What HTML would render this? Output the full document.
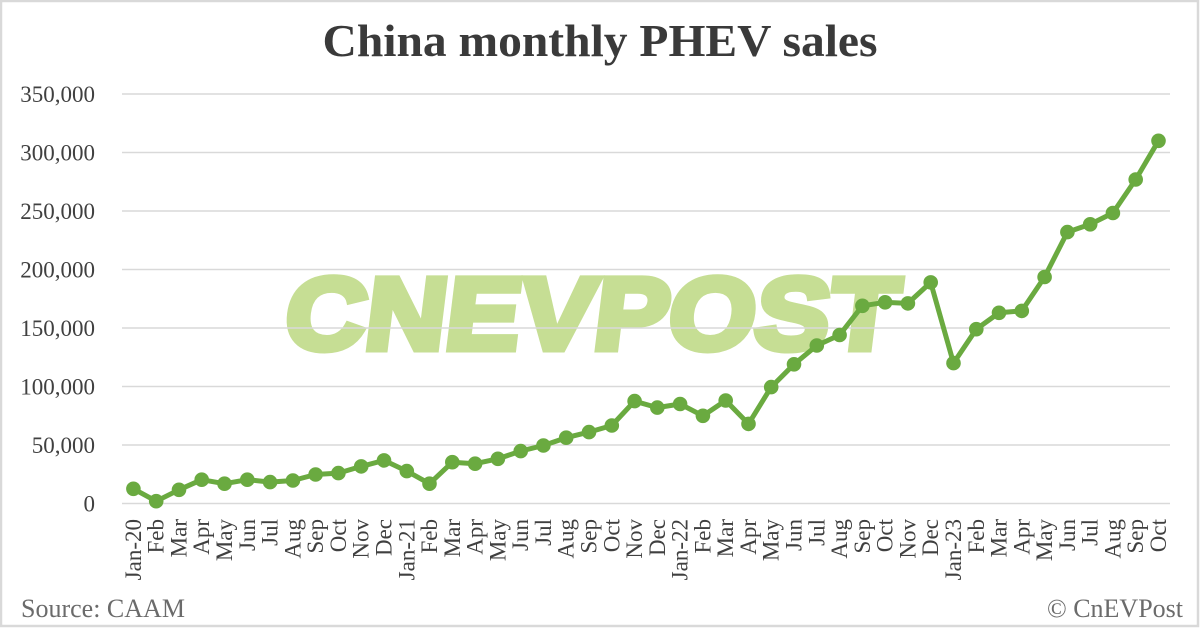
<!DOCTYPE html>
<html>
<head>
<meta charset="utf-8">
<style>
html,body{margin:0;padding:0;background:#fff;}
svg{display:block;}
</style>
</head>
<body>
<svg width="1200" height="628" viewBox="0 0 1200 628" xmlns="http://www.w3.org/2000/svg">
<rect x="0" y="0" width="1200" height="628" fill="#ffffff"/>
<rect x="1" y="1" width="1197" height="625" fill="none" stroke="#d9d9d9" stroke-width="2.5"/>

<text x="600" y="56" text-anchor="middle" font-family="Liberation Serif, serif" font-weight="bold" font-size="46" fill="#3a3a3a" textLength="555" lengthAdjust="spacingAndGlyphs">China monthly PHEV sales</text>

<!-- watermark -->
<g transform="translate(282,349) skewX(-7)">
<text x="0" y="0" font-family="Liberation Sans, DejaVu Sans, sans-serif" font-weight="bold" font-size="102" fill="#c6de94" stroke="#c6de94" stroke-width="7" stroke-linejoin="miter" textLength="612" lengthAdjust="spacingAndGlyphs">CNEVPOST</text>
</g>

<!-- gridlines -->
<g stroke="#d9d9d9" stroke-width="1.5">
<line x1="122" x2="1170" y1="503.5" y2="503.5"/>
<line x1="122" x2="1170" y1="445" y2="445"/>
<line x1="122" x2="1170" y1="386.5" y2="386.5"/>
<line x1="122" x2="1170" y1="328" y2="328"/>
<line x1="122" x2="1170" y1="269.5" y2="269.5"/>
<line x1="122" x2="1170" y1="211" y2="211"/>
<line x1="122" x2="1170" y1="152.5" y2="152.5"/>
<line x1="122" x2="1170" y1="94" y2="94"/>
</g>

<!-- y labels -->
<g font-family="Liberation Serif, serif" font-size="23" fill="#404040" text-anchor="end">
<text x="95" y="511.5">0</text>
<text x="95" y="453">50,000</text>
<text x="95" y="394.5">100,000</text>
<text x="95" y="336">150,000</text>
<text x="95" y="277.5">200,000</text>
<text x="95" y="219">250,000</text>
<text x="95" y="160.5">300,000</text>
<text x="95" y="102">350,000</text>
</g>

<!-- series -->
<polyline fill="none" stroke="#6aaa40" stroke-width="5" stroke-linejoin="round" points="133.4,488.8 156.2,501.2 179.0,489.8 201.7,479.7 224.5,483.7 247.3,479.7 270.1,482.1 292.9,480.5 315.6,474.5 338.4,473.1 361.2,466.4 384.0,460.4 406.8,471.1 429.5,483.7 452.3,462.2 475.1,463.7 497.9,458.8 520.7,451.1 543.4,445.5 566.2,437.7 589.0,432.1 611.8,425.5 634.6,401.1 657.3,407.6 680.1,404.0 702.9,415.8 725.7,400.5 748.5,423.9 771.2,387.1 794.0,364.3 816.8,345.5 839.6,335.0 862.4,305.8 885.1,302.3 907.9,303.4 930.7,282.4 953.5,363.1 976.3,329.2 999.0,312.8 1021.8,310.9 1044.6,277.0 1067.4,232.1 1090.2,224.3 1112.9,213.0 1135.7,179.5 1158.5,140.8"/>
<g fill="#6aaa40">
<circle cx="133.4" cy="488.8" r="7.3"/><circle cx="156.2" cy="501.2" r="7.3"/><circle cx="179.0" cy="489.8" r="7.3"/><circle cx="201.7" cy="479.7" r="7.3"/><circle cx="224.5" cy="483.7" r="7.3"/><circle cx="247.3" cy="479.7" r="7.3"/><circle cx="270.1" cy="482.1" r="7.3"/><circle cx="292.9" cy="480.5" r="7.3"/><circle cx="315.6" cy="474.5" r="7.3"/><circle cx="338.4" cy="473.1" r="7.3"/><circle cx="361.2" cy="466.4" r="7.3"/><circle cx="384.0" cy="460.4" r="7.3"/><circle cx="406.8" cy="471.1" r="7.3"/><circle cx="429.5" cy="483.7" r="7.3"/><circle cx="452.3" cy="462.2" r="7.3"/><circle cx="475.1" cy="463.7" r="7.3"/><circle cx="497.9" cy="458.8" r="7.3"/><circle cx="520.7" cy="451.1" r="7.3"/><circle cx="543.4" cy="445.5" r="7.3"/><circle cx="566.2" cy="437.7" r="7.3"/><circle cx="589.0" cy="432.1" r="7.3"/><circle cx="611.8" cy="425.5" r="7.3"/><circle cx="634.6" cy="401.1" r="7.3"/><circle cx="657.3" cy="407.6" r="7.3"/><circle cx="680.1" cy="404.0" r="7.3"/><circle cx="702.9" cy="415.8" r="7.3"/><circle cx="725.7" cy="400.5" r="7.3"/><circle cx="748.5" cy="423.9" r="7.3"/><circle cx="771.2" cy="387.1" r="7.3"/><circle cx="794.0" cy="364.3" r="7.3"/><circle cx="816.8" cy="345.5" r="7.3"/><circle cx="839.6" cy="335.0" r="7.3"/><circle cx="862.4" cy="305.8" r="7.3"/><circle cx="885.1" cy="302.3" r="7.3"/><circle cx="907.9" cy="303.4" r="7.3"/><circle cx="930.7" cy="282.4" r="7.3"/><circle cx="953.5" cy="363.1" r="7.3"/><circle cx="976.3" cy="329.2" r="7.3"/><circle cx="999.0" cy="312.8" r="7.3"/><circle cx="1021.8" cy="310.9" r="7.3"/><circle cx="1044.6" cy="277.0" r="7.3"/><circle cx="1067.4" cy="232.1" r="7.3"/><circle cx="1090.2" cy="224.3" r="7.3"/><circle cx="1112.9" cy="213.0" r="7.3"/><circle cx="1135.7" cy="179.5" r="7.3"/><circle cx="1158.5" cy="140.8" r="7.3"/>
</g>

<!-- x labels -->
<g font-family="Liberation Serif, serif" font-size="23" fill="#404040" text-anchor="end">
<text transform="translate(140.9,519) rotate(-90)">Jan-20</text>
<text transform="translate(163.7,519) rotate(-90)">Feb</text>
<text transform="translate(186.5,519) rotate(-90)">Mar</text>
<text transform="translate(209.2,519) rotate(-90)">Apr</text>
<text transform="translate(232.0,519) rotate(-90)">May</text>
<text transform="translate(254.8,519) rotate(-90)">Jun</text>
<text transform="translate(277.6,519) rotate(-90)">Jul</text>
<text transform="translate(300.4,519) rotate(-90)">Aug</text>
<text transform="translate(323.1,519) rotate(-90)">Sep</text>
<text transform="translate(345.9,519) rotate(-90)">Oct</text>
<text transform="translate(368.7,519) rotate(-90)">Nov</text>
<text transform="translate(391.5,519) rotate(-90)">Dec</text>
<text transform="translate(414.3,519) rotate(-90)">Jan-21</text>
<text transform="translate(437.0,519) rotate(-90)">Feb</text>
<text transform="translate(459.8,519) rotate(-90)">Mar</text>
<text transform="translate(482.6,519) rotate(-90)">Apr</text>
<text transform="translate(505.4,519) rotate(-90)">May</text>
<text transform="translate(528.2,519) rotate(-90)">Jun</text>
<text transform="translate(550.9,519) rotate(-90)">Jul</text>
<text transform="translate(573.7,519) rotate(-90)">Aug</text>
<text transform="translate(596.5,519) rotate(-90)">Sep</text>
<text transform="translate(619.3,519) rotate(-90)">Oct</text>
<text transform="translate(642.1,519) rotate(-90)">Nov</text>
<text transform="translate(664.8,519) rotate(-90)">Dec</text>
<text transform="translate(687.6,519) rotate(-90)">Jan-22</text>
<text transform="translate(710.4,519) rotate(-90)">Feb</text>
<text transform="translate(733.2,519) rotate(-90)">Mar</text>
<text transform="translate(756.0,519) rotate(-90)">Apr</text>
<text transform="translate(778.7,519) rotate(-90)">May</text>
<text transform="translate(801.5,519) rotate(-90)">Jun</text>
<text transform="translate(824.3,519) rotate(-90)">Jul</text>
<text transform="translate(847.1,519) rotate(-90)">Aug</text>
<text transform="translate(869.9,519) rotate(-90)">Sep</text>
<text transform="translate(892.6,519) rotate(-90)">Oct</text>
<text transform="translate(915.4,519) rotate(-90)">Nov</text>
<text transform="translate(938.2,519) rotate(-90)">Dec</text>
<text transform="translate(961.0,519) rotate(-90)">Jan-23</text>
<text transform="translate(983.8,519) rotate(-90)">Feb</text>
<text transform="translate(1006.5,519) rotate(-90)">Mar</text>
<text transform="translate(1029.3,519) rotate(-90)">Apr</text>
<text transform="translate(1052.1,519) rotate(-90)">May</text>
<text transform="translate(1074.9,519) rotate(-90)">Jun</text>
<text transform="translate(1097.7,519) rotate(-90)">Jul</text>
<text transform="translate(1120.4,519) rotate(-90)">Aug</text>
<text transform="translate(1143.2,519) rotate(-90)">Sep</text>
<text transform="translate(1166.0,519) rotate(-90)">Oct</text>
</g>

<text x="21" y="617" font-family="Liberation Serif, serif" font-size="26" fill="#6b6b6b">Source: CAAM</text>
<text x="1183" y="617" text-anchor="end" font-family="Liberation Serif, serif" font-size="26" fill="#6b6b6b">© CnEVPost</text>
</svg>
</body>
</html>
